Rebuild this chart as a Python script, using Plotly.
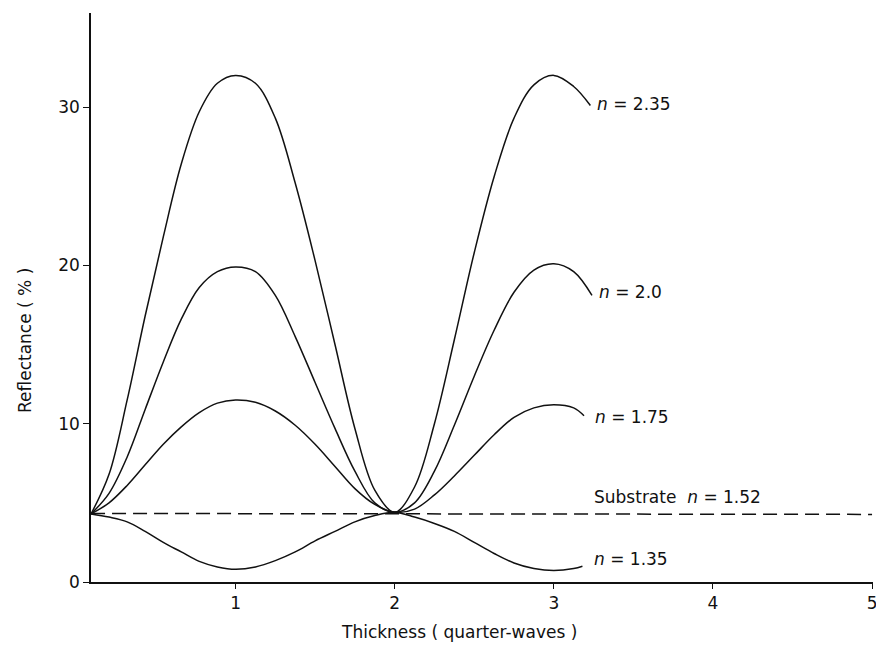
import plotly.graph_objects as go

# Thickness (quarter-waves) sample positions shared by the film curves
thickness = [0.092, 0.205, 0.319, 0.432, 0.546, 0.659, 0.772, 0.886, 1.0,
             1.125, 1.25, 1.375, 1.5, 1.625, 1.75, 1.875, 2.0,
             2.125, 2.25, 2.375, 2.5, 2.625, 2.75, 2.875, 3.0, 3.125]

# Reflectance (%) for each film index
r_235 = [4.3, 6.8, 11.5, 16.8, 21.8, 26.4, 29.7, 31.5, 32.0,
         31.5, 29.3, 25.2, 20.3, 15.0, 9.7, 5.8, 4.4,
         6.0, 10.0, 15.3, 20.8, 25.6, 29.3, 31.4, 32.0, 31.3]
r_200 = [4.3, 5.6, 7.9, 10.9, 13.9, 16.6, 18.6, 19.6, 19.9,
         19.6, 18.1, 15.5, 12.6, 9.7, 7.0, 5.0, 4.4,
         5.0, 7.0, 9.9, 13.0, 15.9, 18.3, 19.7, 20.1, 19.6]
r_175 = [4.3, 5.0, 6.1, 7.4, 8.7, 9.8, 10.7, 11.3, 11.5,
         11.35, 10.8, 9.9, 8.7, 7.3, 5.9, 4.9, 4.4,
         4.6, 5.5, 6.7, 8.0, 9.3, 10.4, 11.0, 11.2, 11.0]
r_135 = [4.3, 4.1, 3.8, 3.2, 2.5, 1.9, 1.3, 0.95, 0.8,
         0.95, 1.35, 1.9, 2.6, 3.2, 3.8, 4.2, 4.4,
         4.1, 3.7, 3.2, 2.5, 1.8, 1.2, 0.85, 0.72, 0.85]

# Final point of each curve (where the label sits)
end_x = {"2.35": 3.23, "2.0": 3.24, "1.75": 3.19, "1.35": 3.18}
end_r = {"2.35": 30.1, "2.0": 18.1, "1.75": 10.5, "1.35": 1.0}

# Substrate reference line
substrate_x = [0.092, 5.0]
substrate_r = [4.33, 4.27]

labels = {"2.35": "<i>n</i> = 2.35", "2.0": "<i>n</i> = 2.0",
          "1.75": "<i>n</i> = 1.75", "1.35": "<i>n</i> = 1.35"}
label_pos = {"2.35": (3.256, 30.2), "2.0": (3.274, 18.3),
             "1.75": (3.249, 10.4), "1.35": (3.241, 1.45)}
substrate_label = "Substrate  <i>n</i> = 1.52"
substrate_label_pos = (3.241, 5.35)

x_ticks = [1, 2, 3, 4, 5]
y_ticks = [0, 10, 20, 30]

FONT = "DejaVu Sans, Liberation Sans, sans-serif"
INK = "#111111"

fig = go.Figure()
series = {"2.35": r_235, "2.0": r_200, "1.75": r_175, "1.35": r_135}
for key, vals in series.items():
    fig.add_trace(go.Scatter(
        x=thickness + [end_x[key]], y=vals + [end_r[key]],
        mode="lines", line=dict(color=INK, width=1.5, shape="spline", smoothing=1.0),
        showlegend=False, hoverinfo="skip"))

fig.add_trace(go.Scatter(
    x=substrate_x, y=substrate_r, mode="lines",
    line=dict(color=INK, width=1.5, dash="14px,7px"),
    showlegend=False, hoverinfo="skip"))

annotations = []
for key, (ax, ay) in label_pos.items():
    annotations.append(dict(x=ax, y=ay, xref="x", yref="y", text=labels[key],
                            showarrow=False, xanchor="left", yanchor="middle",
                            font=dict(family=FONT, size=17, color=INK)))
annotations.append(dict(x=substrate_label_pos[0], y=substrate_label_pos[1], xref="x", yref="y",
                        text=substrate_label, showarrow=False, xanchor="left", yanchor="middle",
                        font=dict(family=FONT, size=17, color=INK)))
annotations.append(dict(x=0.4706, y=-0.088, xref="paper", yref="paper",
                        text="Thickness ( quarter-waves )", showarrow=False,
                        xanchor="center", yanchor="middle",
                        font=dict(family=FONT, size=17, color=INK)))
annotations.append(dict(x=-0.0844, y=0.4253, xref="paper", yref="paper",
                        text="Reflectance ( % )", showarrow=False, textangle=-90,
                        xanchor="center", yanchor="middle",
                        font=dict(family=FONT, size=17, color=INK)))

fig.update_layout(
    width=876, height=645,
    margin=dict(l=91, r=3, t=13, b=63, autoexpand=False),
    paper_bgcolor="white", plot_bgcolor="white",
    annotations=annotations,
    xaxis=dict(range=[0.0917, 5.006], tickvals=x_ticks, ticktext=[str(t) for t in x_ticks],
               showline=True, linecolor=INK, linewidth=1.5, ticks="outside", ticklen=5,
               tickcolor=INK, showgrid=False, zeroline=False, ticklabeloverflow="allow",
               automargin=False,
               tickfont=dict(family=FONT, size=17, color=INK)),
    yaxis=dict(range=[0, 35.94], tickvals=y_ticks, ticktext=[str(t) for t in y_ticks],
               showline=True, linecolor=INK, linewidth=1.5, ticks="outside", ticklen=6,
               tickcolor=INK, showgrid=False, zeroline=False, automargin=False,
               tickfont=dict(family=FONT, size=17, color=INK)),
)

fig.write_html("out.html")
